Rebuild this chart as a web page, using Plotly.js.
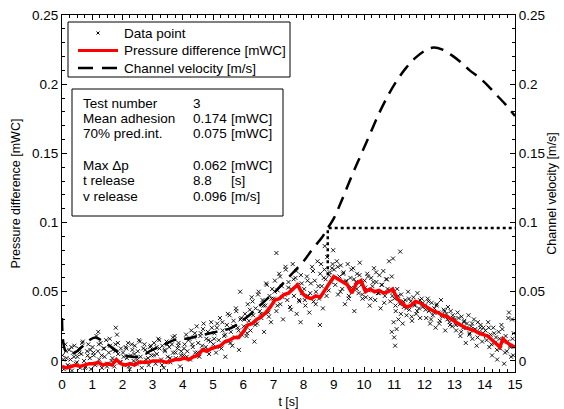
<!DOCTYPE html>
<html><head><meta charset="utf-8">
<script src="https://cdn.plot.ly/plotly-3.0.1.min.js"></script>
<style>html,body{margin:0;padding:0;background:#fff}#plot{width:564px;height:409px}</style>
</head><body><div id="plot"></div>
<script>
// Scatter: individual data points (t [s], pressure difference [mWC])
const ptT = [
0.02,0.06,0.11,0.15,0.19,0.24,0.28,0.33,0.37,0.41,0.46,0.51,0.55,0.60,0.64,0.69,0.73,0.78,0.83,0.87,0.92,0.96,
1.01,1.05,1.10,1.14,1.19,1.23,1.28,1.32,1.37,1.41,1.46,1.50,1.55,1.59,1.64,1.68,1.73,1.77,1.82,1.86,1.91,1.95,
2.02,2.06,2.11,2.15,2.19,2.24,2.28,2.33,2.37,2.41,2.46,2.51,2.55,2.60,2.64,2.69,2.73,2.78,2.83,2.87,2.92,2.96,
3.01,3.05,3.10,3.14,3.19,3.23,3.28,3.32,3.37,3.41,3.46,3.50,3.55,3.59,3.64,3.68,3.73,3.77,3.82,3.86,3.91,3.95,
4.02,4.06,4.11,4.15,4.19,4.24,4.28,4.33,4.37,4.41,4.46,4.51,4.55,4.60,4.64,4.69,4.73,4.78,4.83,4.87,4.92,4.96,
5.01,5.05,5.10,5.14,5.19,5.23,5.28,5.32,5.37,5.41,5.46,5.50,5.55,5.59,5.64,5.68,5.73,5.77,5.82,5.86,5.91,5.95,
6.02,6.06,6.11,6.15,6.19,6.24,6.28,6.33,6.37,6.41,6.46,6.51,6.55,6.60,6.64,6.69,6.73,6.78,6.83,6.87,6.92,6.96,
7.01,7.05,7.10,7.14,7.19,7.23,7.28,7.32,7.37,7.41,7.46,7.50,7.55,7.59,7.64,7.68,7.73,7.77,7.82,7.86,7.91,7.95,
8.02,8.06,8.11,8.15,8.19,8.24,8.28,8.33,8.37,8.41,8.46,8.51,8.55,8.60,8.64,8.69,8.73,8.78,8.83,8.87,8.92,8.96,
9.01,9.05,9.10,9.14,9.19,9.23,9.28,9.32,9.37,9.41,9.46,9.50,9.55,9.59,9.64,9.68,9.73,9.77,9.82,9.86,9.91,9.95,
10.02,10.06,10.11,10.15,10.19,10.24,10.28,10.33,10.37,10.41,10.46,10.51,10.55,10.60,10.64,10.69,10.73,10.78,10.83,10.87,10.92,10.96,
11.01,11.05,11.10,11.14,11.19,11.23,11.28,11.32,11.37,11.41,11.46,11.50,11.55,11.59,11.64,11.68,11.73,11.77,11.82,11.86,11.91,11.95,
12.02,12.06,12.11,12.15,12.19,12.24,12.28,12.33,12.37,12.41,12.46,12.51,12.55,12.60,12.64,12.69,12.73,12.78,12.83,12.87,12.92,12.96,
13.01,13.05,13.10,13.14,13.19,13.23,13.28,13.32,13.37,13.41,13.46,13.50,13.55,13.59,13.64,13.68,13.73,13.77,13.82,13.86,13.91,13.95,
14.02,14.06,14.11,14.15,14.19,14.24,14.28,14.33,14.37,14.41,14.46,14.51,14.55,14.60,14.64,14.69,14.73,14.78,14.83,14.87,14.92,14.96,
1.20,1.78,5.90,7.10,8.70,8.98,8.54,7.90,10.92,11.00,11.08,11.03,10.98,11.20,10.96,14.80,14.90
];
const ptP = [
0.004,-0.006,0.012,0.002,-0.003,0.008,0.001,-0.007,0.006,0.011,-0.002,0.003,0.009,-0.005,0.005,0.014,0.000,-0.004,0.007,0.012,0.002,-0.006,
0.010,0.004,-0.003,0.018,0.007,0.001,0.013,-0.005,0.009,0.003,0.015,-0.002,0.006,0.011,0.000,0.008,-0.004,0.012,0.019,0.005,-0.001,0.009,
0.006,-0.003,0.010,0.002,0.013,-0.006,0.004,0.008,0.000,0.011,-0.002,0.007,0.015,0.003,-0.005,0.009,0.012,0.001,0.006,-0.003,0.010,0.004,
0.008,0.013,-0.002,0.005,0.016,0.009,0.001,0.011,-0.005,0.007,0.014,0.003,0.010,-0.001,0.012,0.006,0.018,0.002,0.009,0.013,-0.004,0.007,
0.004,0.012,0.019,0.007,0.015,0.001,0.022,0.010,0.017,0.006,0.025,0.013,0.003,0.020,0.011,0.027,0.008,0.016,0.021,0.005,0.014,0.024,
0.012,0.020,0.006,0.027,0.015,0.031,0.009,0.022,0.018,0.003,0.026,0.014,0.033,0.021,0.011,0.029,0.017,0.036,0.024,0.008,0.030,0.019,
0.025,0.034,0.018,0.041,0.029,0.022,0.046,0.033,0.014,0.038,0.027,0.050,0.036,0.031,0.044,0.021,0.040,0.055,0.035,0.047,0.028,0.052,
0.045,0.058,0.036,0.051,0.063,0.041,0.054,0.030,0.048,0.066,0.044,0.057,0.039,0.052,0.070,0.047,0.060,0.034,0.055,0.043,0.062,0.049,
0.052,0.040,0.061,0.047,0.035,0.056,0.068,0.043,0.058,0.050,0.072,0.045,0.063,0.054,0.038,0.066,0.059,0.075,0.051,0.064,0.057,0.070,
0.066,0.055,0.072,0.048,0.061,0.069,0.052,0.064,0.041,0.058,0.070,0.047,0.060,0.053,0.067,0.036,0.057,0.063,0.049,0.071,0.055,0.045,
0.058,0.046,0.063,0.051,0.040,0.060,0.054,0.067,0.044,0.057,0.049,0.062,0.038,0.055,0.065,0.047,0.059,0.052,0.072,0.043,0.061,0.050,
0.045,0.036,0.052,0.030,0.041,0.048,0.027,0.039,0.044,0.033,0.050,0.037,0.043,0.029,0.046,0.040,0.034,0.049,0.038,0.031,0.045,0.042,
0.040,0.031,0.045,0.036,0.027,0.042,0.033,0.038,0.024,0.041,0.035,0.029,0.044,0.032,0.037,0.022,0.034,0.039,0.028,0.036,0.025,0.031,
0.030,0.022,0.035,0.026,0.018,0.032,0.024,0.029,0.013,0.027,0.033,0.020,0.025,0.016,0.030,0.023,0.011,0.028,0.021,0.026,0.014,0.024,
0.022,0.015,0.028,0.010,0.019,0.004,0.024,0.013,0.017,0.001,0.021,0.009,0.026,0.014,-0.002,0.018,0.007,0.031,0.011,0.003,0.016,0.020,
0.021,0.024,0.050,0.078,0.083,0.080,0.026,0.028,0.021,0.017,0.023,0.011,0.028,0.079,0.074,0.035,0.030
];
const ptT2 = [
0.04,0.13,0.22,0.31,0.40,0.49,0.58,0.67,0.76,0.85,0.94,
1.04,1.13,1.22,1.31,1.40,1.49,1.58,1.67,1.76,1.85,1.94,
2.04,2.13,2.22,2.31,2.40,2.49,2.58,2.67,2.76,2.85,2.94,
3.04,3.13,3.22,3.31,3.40,3.49,3.58,3.67,3.76,3.85,3.94,
4.04,4.13,4.22,4.31,4.40,4.49,4.58,4.67,4.76,4.85,4.94,
5.04,5.13,5.22,5.31,5.40,5.49,5.58,5.67,5.76,5.85,5.94,
6.04,6.13,6.22,6.31,6.40,6.49,6.58,6.67,6.76,6.85,6.94,
7.04,7.13,7.22,7.31,7.40,7.49,7.58,7.67,7.76,7.85,7.94,
8.04,8.13,8.22,8.31,8.40,8.49,8.58,8.67,8.76,8.85,8.94,
9.04,9.13,9.22,9.31,9.40,9.49,9.58,9.67,9.76,9.85,9.94,
10.04,10.13,10.22,10.31,10.40,10.49,10.58,10.67,10.76,10.85,10.94,
11.04,11.13,11.22,11.31,11.40,11.49,11.58,11.67,11.76,11.85,11.94,
12.04,12.13,12.22,12.31,12.40,12.49,12.58,12.67,12.76,12.85,12.94,
13.04,13.13,13.22,13.31,13.40,13.49,13.58,13.67,13.76,13.85,13.94,
14.04,14.13,14.22,14.31,14.40,14.49,14.58,14.67,14.76,14.85,14.94
];
const ptP2 = [
0.001,0.007,-0.004,0.010,0.003,-0.001,0.006,0.013,-0.005,0.004,0.008,
0.006,-0.002,0.012,0.004,0.009,-0.004,0.016,0.002,0.007,0.013,-0.001,
0.003,0.009,-0.004,0.012,0.005,0.001,0.014,-0.001,0.008,0.002,0.011,
0.004,0.010,0.015,-0.003,0.008,0.012,0.002,0.017,0.006,0.011,0.004,
0.009,0.003,0.016,0.012,0.020,0.006,0.018,0.023,0.010,0.015,0.028,
0.016,0.024,0.010,0.028,0.019,0.034,0.013,0.025,0.038,0.022,0.031,
0.030,0.020,0.037,0.043,0.026,0.048,0.034,0.040,0.056,0.032,0.045,
0.050,0.040,0.061,0.046,0.068,0.053,0.037,0.059,0.065,0.044,0.056,
0.044,0.058,0.049,0.065,0.041,0.054,0.070,0.060,0.047,0.062,0.067,
0.060,0.068,0.050,0.063,0.057,0.045,0.066,0.059,0.052,0.062,0.048,
0.053,0.061,0.045,0.057,0.064,0.049,0.055,0.042,0.059,0.051,0.047,
0.040,0.047,0.034,0.043,0.038,0.045,0.032,0.041,0.036,0.044,0.039,
0.037,0.043,0.030,0.035,0.040,0.027,0.033,0.036,0.030,0.026,0.033,
0.026,0.031,0.021,0.028,0.024,0.019,0.027,0.022,0.017,0.024,0.020,
0.018,0.024,0.012,0.020,0.008,0.016,0.023,0.006,0.014,0.010,0.004
];

// Red line: pressure difference (moving average)
const redT = [0,0.15,0.3,0.45,0.6,0.75,0.9,1.05,1.2,1.35,1.5,1.65,1.8,1.95,2.1,2.25,2.4,2.55,2.7,2.85,3.0,3.15,3.3,3.45,3.6,3.75,3.9,4.05,4.2,4.35,4.5,4.65,4.8,4.95,5.1,5.25,5.4,5.55,5.7,5.85,6.0,6.15,6.3,6.45,6.6,6.75,6.9,7.05,7.2,7.35,7.5,7.65,7.8,7.95,8.1,8.25,8.4,8.55,8.7,8.85,9.0,9.15,9.3,9.45,9.6,9.75,9.9,10.05,10.2,10.35,10.5,10.65,10.8,10.95,11.1,11.25,11.4,11.55,11.7,11.85,12.0,12.15,12.3,12.45,12.6,12.75,12.9,13.05,13.2,13.35,13.5,13.65,13.8,13.95,14.1,14.25,14.4,14.5,14.6,14.75,14.9,15.0];
const redP = [-0.004,-0.005,-0.004,-0.003,-0.004,-0.003,-0.002,-0.002,-0.001,-0.003,-0.002,-0.003,0.001,-0.002,-0.003,-0.002,-0.003,-0.001,-0.001,-0.001,0.000,0.000,0.000,-0.001,0.000,0.001,0.001,0.002,0.001,0.003,0.004,0.008,0.007,0.009,0.010,0.011,0.014,0.015,0.017,0.017,0.021,0.026,0.027,0.030,0.032,0.035,0.039,0.044,0.045,0.048,0.049,0.052,0.055,0.049,0.046,0.045,0.047,0.046,0.051,0.055,0.061,0.059,0.057,0.055,0.049,0.056,0.058,0.050,0.052,0.050,0.051,0.049,0.050,0.052,0.045,0.042,0.039,0.040,0.043,0.042,0.040,0.038,0.036,0.035,0.033,0.032,0.030,0.028,0.026,0.024,0.023,0.022,0.020,0.019,0.018,0.015,0.012,0.010,0.016,0.013,0.011,0.010];

// Dashed line: channel velocity [m/s]
const velT = [0,0.12,0.3,0.5,0.7,0.9,1.1,1.3,1.5,1.7,1.9,2.1,2.3,2.5,2.7,2.9,3.1,3.3,3.5,3.7,3.9,4.1,4.3,4.5,4.7,4.9,5.1,5.3,5.5,5.7,5.9,6.2,6.5,6.8,7.1,7.4,7.7,8.0,8.3,8.6,8.8,9.0,9.3,9.6,9.9,10.2,10.5,10.8,11.1,11.4,11.7,12.0,12.3,12.6,12.9,13.2,13.5,13.8,14.1,14.4,14.7,15.0];
const velV = [0.031,0.007,0.005,0.007,0.011,0.015,0.017,0.015,0.012,0.009,0.006,0.004,0.003,0.003,0.004,0.007,0.009,0.011,0.013,0.015,0.016,0.016,0.017,0.018,0.019,0.020,0.021,0.022,0.023,0.025,0.028,0.033,0.039,0.045,0.051,0.058,0.065,0.072,0.081,0.089,0.096,0.103,0.118,0.134,0.149,0.164,0.179,0.192,0.203,0.212,0.219,0.224,0.2265,0.225,0.221,0.216,0.210,0.205,0.199,0.192,0.185,0.177];

// Release marker (dotted)
const relT = [8.8, 8.8, 15];
const relV = [0.062, 0.096, 0.096];

// Legend entries and info box
const legendNames = ["Data point","Pressure difference [mWC]","Channel velocity [m/s]"];
const infoLabels = ["Test number","Mean adhesion","70% pred.int.","Max \u0394p","t release","v release"];
const infoValues = ["3","0.174","0.075","0.062","8.8","0.096"];
const infoUnits  = ["","[mWC]","[mWC]","[mWC]","[s]","[m/s]"];

const FONT = "Liberation Sans, Arial, Helvetica, sans-serif";
const L=62, R=49, T=15, B=37, W=564, H=409;
const pw = W-L-R, ph = H-T-B;
const px2x = p => (p-L)/pw;
const px2y = p => 1-(p-T)/ph;
const TXT = {size:13.5, color:'black', family:FONT};

const traces = [
  {x: ptT.concat(ptT2), y: ptP.concat(ptP2), type:'scatter', mode:'markers', name:legendNames[0], showlegend:false,
   marker:{symbol:'x-thin', size:4, color:'black', line:{width:0.9, color:'black'}}},
  {x: redT, y: redP, type:'scatter', mode:'lines', name:legendNames[1], showlegend:false,
   line:{color:'#ff0000', width:3.5}},
  {x: velT, y: velV, type:'scatter', mode:'lines', name:legendNames[2], yaxis:'y2', showlegend:false,
   line:{color:'black', width:2.5, dash:'13px,8px', shape:'spline'}},
  {x: relT, y: relV, type:'scatter', mode:'lines', showlegend:false, yaxis:'y2',
   line:{color:'black', width:2.5, dash:'3px,3px'}}
];

// Info box text
const annotations = [];
const infoRowPx = [103,118.5,134,165,180.5,196];
infoLabels.forEach((s,i)=>{
  const y = px2y(infoRowPx[i]);
  annotations.push({xref:'paper',yref:'paper',x:px2x(81),y:y,xanchor:'left',yanchor:'middle',text:s,showarrow:false,font:TXT});
  annotations.push({xref:'paper',yref:'paper',x:px2x(191),y:y,xanchor:'left',yanchor:'middle',text:infoValues[i],showarrow:false,font:TXT});
  if (infoUnits[i]) annotations.push({xref:'paper',yref:'paper',x:px2x(229),y:y,xanchor:'left',yanchor:'middle',text:infoUnits[i],showarrow:false,font:TXT});
});
// Legend (MATLAB-style compact box)
const legRowPx = [33,50.5,68];
legendNames.forEach((s,i)=>{
  annotations.push({xref:'paper',yref:'paper',x:px2x(122),y:px2y(legRowPx[i]),xanchor:'left',yanchor:'middle',text:s,showarrow:false,font:TXT});
});

const shapes = [
  {type:'rect', xref:'paper', yref:'paper', x0:px2x(68), x1:px2x(290), y0:px2y(77), y1:px2y(22), line:{color:'black', width:1}, fillcolor:'white', layer:'above'},
  {type:'path', xref:'paper', yref:'paper', layer:'above', line:{color:'black', width:1},
   path:`M${px2x(96.5)},${px2y(31.5)} L${px2x(99.5)},${px2y(34.5)} M${px2x(96.5)},${px2y(34.5)} L${px2x(99.5)},${px2y(31.5)}`},
  {type:'line', xref:'paper', yref:'paper', layer:'above', x0:px2x(78), x1:px2x(118), y0:px2y(50.5), y1:px2y(50.5), line:{color:'#ff0000', width:3}},
  {type:'line', xref:'paper', yref:'paper', layer:'above', x0:px2x(78), x1:px2x(118), y0:px2y(68), y1:px2y(68), line:{color:'black', width:2.5, dash:'15px,9px'}},
  {type:'rect', xref:'paper', yref:'paper', x0:px2x(72), x1:px2x(283), y0:px2y(216), y1:px2y(89), line:{color:'black', width:1}, fillcolor:'white', layer:'above'}
];

const yCommon = {range:[-0.008,0.25], dtick:0.05, tick0:0, ticks:'inside', ticklen:5, tickwidth:1, tickcolor:'black',
  showline:true, linecolor:'black', linewidth:1, showgrid:false, zeroline:false,
  minor:{dtick:0.01, ticks:'inside', ticklen:3, tickcolor:'black', showgrid:false},
  tickfont:{size:13.5, family:FONT, color:'black'}};

const layout = {
  width:W, height:H, margin:{l:L, r:R, t:T, b:B}, paper_bgcolor:'white', plot_bgcolor:'white',
  font:{family:FONT, color:'black'}, showlegend:false,
  xaxis:{range:[0,15], dtick:1, tick0:0, ticks:'inside', ticklen:5, tickcolor:'black', mirror:'ticks',
    showline:true, linecolor:'black', linewidth:1, showgrid:false, zeroline:false,
    minor:{dtick:0.25, ticks:'inside', ticklen:3, tickcolor:'black', showgrid:false},
    tickfont:{size:13.5, family:FONT, color:'black'},
    title:{text:'t [s]', font:{size:12.5, family:FONT, color:'black'}, standoff:6}},
  yaxis:Object.assign({}, yCommon, {title:{text:'Pressure difference [mWC]', font:{size:12.5, family:FONT, color:'black'}, standoff:8}}),
  yaxis2:Object.assign({}, yCommon, {overlaying:'y', side:'right', title:{text:'Channel velocity [m/s]', font:{size:12.5, family:FONT, color:'black'}, standoff:3}}),
  shapes: shapes,
  annotations: annotations
};

Plotly.newPlot('plot', traces, layout, {staticPlot:true, displayModeBar:false});
</script></body></html>
